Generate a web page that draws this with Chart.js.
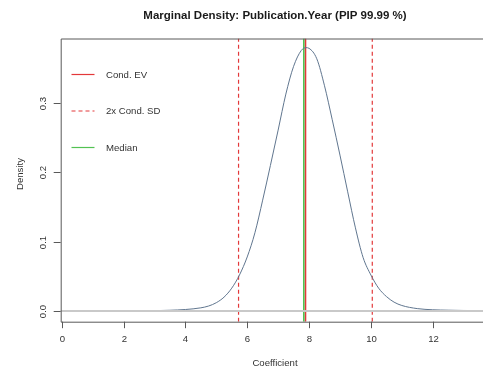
<!DOCTYPE html>
<html>
<head>
<meta charset="utf-8">
<script src="https://cdn.jsdelivr.net/npm/chart.js@4/dist/chart.umd.min.js"></script>
<style>
  html, body { margin: 0; padding: 0; background: #ffffff; }
  #wrap { width: 483px; height: 370px; position: relative; }
</style>
</head>
<body>
<div id="wrap"><canvas id="c" width="483" height="370"></canvas></div>
<script>
// ---- data ----
const chartTitle = "Marginal Density: Publication.Year (PIP 99.99 %)";
const xAxisTitle = "Coefficient";
const yAxisTitle = "Density";

const coefX = [0.5, 1.0, 1.5, 2.0, 2.5, 3.0, 3.5, 4.0, 4.5, 4.75, 5.0, 5.25, 5.5, 5.75, 6.0, 6.25, 6.5, 6.75, 7.0, 7.25, 7.5, 7.75, 7.9, 8.0, 8.25, 8.5, 8.75, 9.0, 9.25, 9.5, 9.75, 10.0, 10.25, 10.5, 10.75, 11.0, 11.5, 12.0, 12.5, 13.0, 13.6];
const density = [0.0001, 0.0001, 0.0002, 0.0002, 0.0003, 0.0005, 0.0011, 0.0022, 0.0046, 0.0072, 0.0120, 0.020, 0.033, 0.052, 0.078, 0.113, 0.160, 0.210, 0.261, 0.313, 0.353, 0.376, 0.380, 0.379, 0.364, 0.325, 0.276, 0.225, 0.172, 0.120, 0.077, 0.052, 0.033, 0.021, 0.0128, 0.0080, 0.0035, 0.0018, 0.0012, 0.0008, 0.0006];

const condEV = 7.885;
const condSDLow = 5.72;
const condSDHigh = 10.045;
const medianValue = 7.83;
const zeroLine = 0;

const xTickValues = [0, 2, 4, 6, 8, 10, 12];
const xTickLabels = ["0", "2", "4", "6", "8", "10", "12"];
const yTickValues = [0, 0.1, 0.2, 0.3];
const yTickLabels = ["0.0", "0.1", "0.2", "0.3"];

const legendLabels = ["Cond. EV", "2x Cond. SD", "Median"];

// ---- axis limits ----
const xMin = -0.032, xMax = 13.626;
const yMin = -0.0154, yMax = 0.3932;

const RED = "#e3383a";
const GREEN = "#52c252";
const CURVE = "#60768f";
const FONT = "'Liberation Sans', Arial, Helvetica, sans-serif";

const legendStyles = [
  { color: RED, dash: [] },
  { color: RED, dash: [4, 3] },
  { color: GREEN, dash: [] }
];

function vline(x) { return [{ x: x, y: yMin }, { x: x, y: yMax }]; }

const curveData = coefX.map((x, i) => ({ x: x, y: density[i] }));

const rPlot = {
  id: 'rPlot',
  afterDatasetsDraw(chart) {
    const ctx = chart.ctx;
    const { left, right } = chart.chartArea;
    const ys = chart.scales.y;
    const y0 = Math.round(ys.getPixelForValue(zeroLine));
    ctx.save();
    ctx.strokeStyle = "#c9c9c9";
    ctx.lineWidth = 2;
    ctx.beginPath();
    ctx.moveTo(left, y0);
    ctx.lineTo(right, y0);
    ctx.stroke();
    ctx.restore();
  },
  afterDraw(chart) {
    const ctx = chart.ctx;
    const { left, right, top, bottom } = chart.chartArea;
    const xs = chart.scales.x, ys = chart.scales.y;
    ctx.save();
    // box (left, top, bottom)
    ctx.strokeStyle = "#595959";
    ctx.lineWidth = 1;
    ctx.beginPath();
    ctx.moveTo(right + 5, top + 0.5);
    ctx.lineTo(left + 0.5, top + 0.5);
    ctx.lineTo(left + 0.5, bottom + 0.5);
    ctx.lineTo(right + 5, bottom + 0.5);
    ctx.stroke();

    ctx.fillStyle = "#333333";
    ctx.font = "9.6px " + FONT;

    // x ticks
    ctx.textAlign = "center";
    ctx.textBaseline = "middle";
    xTickValues.forEach((v, i) => {
      const px = Math.round(xs.getPixelForValue(v)) + 0.5;
      ctx.beginPath();
      ctx.moveTo(px, bottom);
      ctx.lineTo(px, bottom + 6.5);
      ctx.stroke();
      ctx.fillText(xTickLabels[i], px, 339.5);
    });
    // y ticks (rotated labels)
    yTickValues.forEach((v, i) => {
      const py = Math.round(ys.getPixelForValue(v)) + 0.5;
      ctx.beginPath();
      ctx.moveTo(left - 7, py);
      ctx.lineTo(left, py);
      ctx.stroke();
      ctx.save();
      ctx.translate(43.5, py);
      ctx.rotate(-Math.PI / 2);
      ctx.fillText(yTickLabels[i], 0, 0);
      ctx.restore();
    });

    // axis titles
    ctx.fillText(xAxisTitle, 275, 363.5);
    ctx.save();
    ctx.translate(20.5, 174);
    ctx.rotate(-Math.PI / 2);
    ctx.fillText(yAxisTitle, 0, 0);
    ctx.restore();

    // main title
    ctx.font = "bold 11.5px " + FONT;
    ctx.fillStyle = "#1a1a1a";
    ctx.fillText(chartTitle, 275, 15.5);

    // legend
    ctx.font = "9.6px " + FONT;
    ctx.textAlign = "left";
    ctx.fillStyle = "#333333";
    const rowsY = [74.5, 111, 147.5];
    legendLabels.forEach((lab, i) => {
      const st = legendStyles[i];
      ctx.save();
      ctx.strokeStyle = st.color;
      ctx.lineWidth = 1.2;
      ctx.setLineDash(st.dash);
      ctx.beginPath();
      ctx.moveTo(71.5, rowsY[i]);
      ctx.lineTo(94.5, rowsY[i]);
      ctx.stroke();
      ctx.restore();
      ctx.fillText(lab, 106, rowsY[i] + 0.5);
    });
    ctx.restore();
  }
};

new Chart(document.getElementById('c'), {
  type: 'line',
  data: {
    datasets: [
      { label: 'density', data: curveData, borderColor: CURVE, borderWidth: 1, pointRadius: 0, cubicInterpolationMode: 'monotone', fill: false },
      { label: legendLabels[1] + ' low', data: vline(condSDLow), borderColor: RED, borderWidth: 1.2, borderDash: [4, 3], pointRadius: 0, fill: false },
      { label: legendLabels[1] + ' high', data: vline(condSDHigh), borderColor: RED, borderWidth: 1.2, borderDash: [4, 3], pointRadius: 0, fill: false },
      { label: legendLabels[2], data: vline(medianValue), borderColor: GREEN, borderWidth: 1.6, pointRadius: 0, fill: false },
      { label: legendLabels[0], data: vline(condEV), borderColor: RED, borderWidth: 1.6, pointRadius: 0, fill: false }
    ]
  },
  options: {
    responsive: false,
    animation: false,
    devicePixelRatio: 1,
    layout: { padding: { left: 60.7, right: 0, top: 38.5, bottom: 48.3 } },
    scales: {
      x: { type: 'linear', min: xMin, max: xMax, display: false },
      y: { type: 'linear', min: yMin, max: yMax, display: false }
    },
    plugins: { legend: { display: false }, tooltip: { enabled: false }, title: { display: false } }
  },
  plugins: [rPlot]
});
</script>
</body>
</html>
